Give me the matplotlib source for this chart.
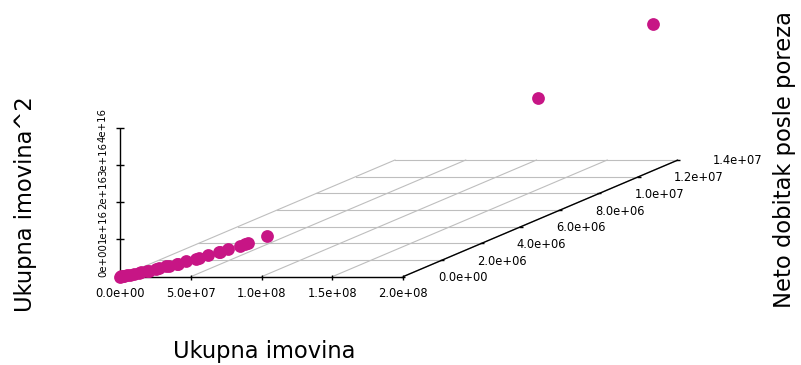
import numpy as np
import matplotlib
matplotlib.use("Agg")
import matplotlib.pyplot as plt

# --- data (values in millions) ---
assets_m = [0.2, 0.4, 1.2, 1.5, 2.7, 3.9, 5.4, 6.9, 8.5, 10.0, 11.6, 13.5, 15.4,
            17.3, 19.3, 21.2, 23.1, 25.1, 28.9, 30.8, 33.9, 37.8, 39.3, 41.2,
            46.3, 47.8, 49.3, 56.6, 164.0, 197.5]
profit_m = [0.01, 0.03, 0.06, 0.11, 0.15, 0.25, 0.30, 0.45, 0.48, 0.66, 0.65,
            0.86, 0.88, 1.10, 1.12, 1.35, 1.30, 1.55, 1.80, 1.78, 2.05, 2.30,
            2.25, 2.52, 2.75, 2.90, 2.95, 3.40, 9.45, 12.9]

x_ticks = [0, 5e7, 1e8, 1.5e8, 2e8]
x_tick_labels = ["0.0e+00", "5.0e+07", "1.0e+08", "1.5e+08", "2.0e+08"]
y_ticks = [0, 2e6, 4e6, 6e6, 8e6, 1e7, 1.2e7, 1.4e7]
y_tick_labels = ["0.0e+00", "2.0e+06", "4.0e+06", "6.0e+06", "8.0e+06",
                 "1.0e+07", "1.2e+07", "1.4e+07"]
z_ticks = [0, 1e16, 2e16, 3e16, 4e16]
z_tick_labels = ["0e+00", "1e+16", "2e+16", "3e+16", "4e+16"]

x_label = "Ukupna imovina"
y_label = "Neto dobitak posle poreza"
z_label = "Ukupna imovina^2"

x = np.array(assets_m) * 1e6
y = np.array(profit_m) * 1e6
z = x ** 2

# --- oblique projection of the 3D box onto the page (pixel units) ---
W, H = 801, 365
origin = np.array([120.0, 276.7])
x_max, y_max, z_max = x_ticks[-1], y_ticks[-1], z_ticks[-1]
ex = np.array([283.0, 0.0])      # full x range
ey = np.array([275.0, -116.7])   # full y range (depth)
ez = np.array([0.0, -149.0])     # full z range


def project(px, py, pz):
    px = np.asarray(px, dtype=float)
    py = np.asarray(py, dtype=float)
    pz = np.asarray(pz, dtype=float)
    u = origin[0] + px / x_max * ex[0] + py / y_max * ey[0] + pz / z_max * ez[0]
    v = origin[1] + px / x_max * ex[1] + py / y_max * ey[1] + pz / z_max * ez[1]
    return u, v


fig = plt.figure(figsize=(W / 100, H / 100), dpi=100)
ax = fig.add_axes([0, 0, 1, 1])
ax.set_xlim(0, W)
ax.set_ylim(H, 0)
ax.axis("off")

grid_kw = dict(color="#BEBEBE", lw=0.8, zorder=1)
axis_kw = dict(color="black", lw=1.0, zorder=2, solid_capstyle="butt")

# floor grid
for xt in x_ticks:
    u, v = project([xt, xt], [0, y_max], [0, 0])
    ax.plot(u, v, **grid_kw)
for yt in y_ticks:
    u, v = project([0, x_max], [yt, yt], [0, 0])
    ax.plot(u, v, **grid_kw)

# axis lines
u, v = project([0, x_max], [0, 0], [0, 0])
ax.plot(u, v, **axis_kw)
u, v = project([x_max, x_max], [0, y_max], [0, 0])
ax.plot(u, v, **axis_kw)
u, v = project([0, 0], [0, 0], [0, z_max])
ax.plot(u, v, **axis_kw)

tick_fs = 8.3

# x ticks and labels
for xt, lab in zip(x_ticks, x_tick_labels):
    u, v = project(xt, 0, 0)
    ax.plot([u, u], [v - 2, v + 3], **axis_kw)
    ax.text(u, v + 17, lab, ha="center", va="center", fontsize=tick_fs)

# y ticks and labels
for yt, lab in zip(y_ticks, y_tick_labels):
    u, v = project(x_max, yt, 0)
    ax.plot([u - 2, u + 2], [v, v], **axis_kw)
    ax.text(u + 35, v + 1, lab, ha="left", va="center", fontsize=tick_fs)

# z ticks; the rotated labels are packed slightly tighter than the ticks
_, v_top = project(0, 0, z_max)
for zt, lab in zip(z_ticks, z_tick_labels):
    u, v = project(0, 0, zt)
    ax.plot([u - 4, u + 4], [v, v], **axis_kw)
    v_lab = v_top - 3 + (v - v_top) * 0.91
    ax.text(u - 17, v_lab, lab, ha="center", va="center", rotation=90,
            fontsize=7.3)

# points
pu, pv = project(x, y, z)
ax.plot(pu, pv, "o", color="#C71585", markersize=9.2, markeredgewidth=0,
        zorder=3, clip_on=False)

# axis titles
title_fs = 16.3
ax.text(264, 358, x_label, ha="center", va="baseline", fontsize=title_fs)
ax.text(785, 160, y_label, ha="center", va="center", rotation=90,
        fontsize=title_fs)
ax.text(26, 204, z_label, ha="center", va="center", rotation=90,
        fontsize=title_fs)

fig.savefig("out.png", dpi=100)
